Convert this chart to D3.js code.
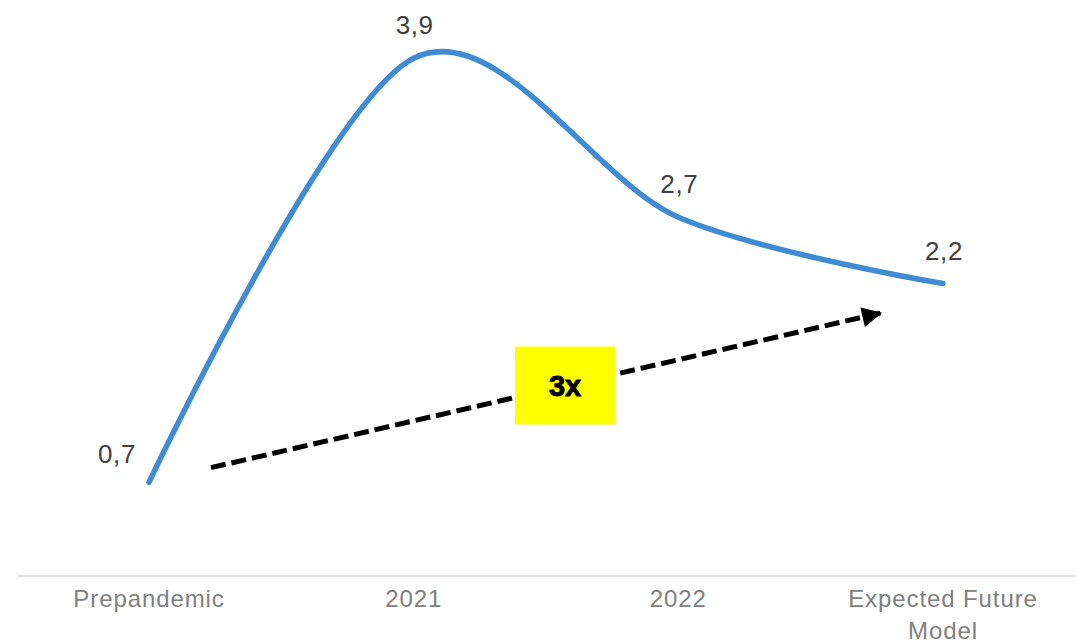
<!DOCTYPE html>
<html>
<head>
<meta charset="utf-8">
<script src="https://cdn.jsdelivr.net/npm/d3@7"></script>
<style>
  html, body { margin: 0; padding: 0; background: #fff; }
  svg { display: block; font-family: "Liberation Sans", Arial, Helvetica, sans-serif; }
</style>
</head>
<body>
<svg id="chart" width="1076" height="643"></svg>
<script>
// ---- data ----
const categories = ["Prepandemic", "2021", "2022", "Expected Future Model"];
const values = [0.7, 3.9, 2.7, 2.2];
const valueLabels = ["0,7", "3,9", "2,7", "2,2"];
// annotation: trend arrow (category index, value) and multiplier box
const arrowStart = [0.234, 0.81];
const arrowEnd = [2.77, 1.98];
const badgeAt = [1.572, 1.43];
const badgeText = "3x";

// ---- layout ----
const W = 1076, H = 643;
const svg = d3.select("#chart");

const x = d3.scalePoint().domain(categories).range([149, 943]);
const xi = d3.scaleLinear().domain([0, categories.length - 1]).range([149, 943]);
const y = d3.scaleLinear().domain([0, 4]).range([575, 45]);

// axis baseline
svg.append("line")
  .attr("x1", 17).attr("x2", W)
  .attr("y1", y(0) + 1).attr("y2", y(0) + 1)
  .attr("stroke", "#d9d9d9").attr("stroke-width", 1.5);

// category labels
const catG = svg.append("g");
categories.forEach((c, i) => {
  const words = c === "Expected Future Model" ? ["Expected Future", "Model"] : [c];
  const t = catG.append("text")
    .attr("x", x(c)).attr("y", 607)
    .attr("text-anchor", "middle")
    .attr("fill", "#808080")
    .attr("font-size", 24)
    .attr("letter-spacing", 0.9);
  words.forEach((w, j) => {
    t.append("tspan").attr("x", x(c)).attr("dy", j === 0 ? 0 : 32).text(w);
  });
});

// line
const pts = categories.map((c, i) => [x(c), y(values[i])]);
svg.append("path")
  .datum(pts)
  .attr("fill", "none")
  .attr("stroke", "#3f8bd4")
  .attr("stroke-width", 5.5)
  .attr("stroke-linecap", "round")
  .attr("stroke-linejoin", "round")
  .attr("d", d3.line().curve(d3.curveCardinal.tension(0.05)));

// data labels
categories.forEach((c, i) => {
  const first = i === 0;
  svg.append("text")
    .attr("x", first ? x(c) - 32 : x(c) + 1)
    .attr("y", first ? y(values[i]) - 19 : y(values[i]) - 24)
    .attr("text-anchor", "middle")
    .attr("fill", "#404040")
    .attr("font-size", 26)
    .attr("letter-spacing", 0.6)
    .text(valueLabels[i]);
});

// arrow
const defs = svg.append("defs");
defs.append("marker")
  .attr("id", "head")
  .attr("viewBox", "0 0 10 10")
  .attr("refX", 10).attr("refY", 5)
  .attr("markerWidth", 4.4).attr("markerHeight", 4)
  .attr("markerUnits", "strokeWidth")
  .attr("orient", "auto")
  .append("path").attr("d", "M0,0 L10,5 L0,10 Z").attr("fill", "#000");

const ax1 = xi(arrowStart[0]), ay1 = y(arrowStart[1]);
const ax2 = xi(arrowEnd[0]), ay2 = y(arrowEnd[1]);
svg.append("line")
  .attr("x1", ax1).attr("y1", ay1)
  .attr("x2", ax2).attr("y2", ay2)
  .attr("stroke", "#000")
  .attr("stroke-width", 5)
  .attr("stroke-dasharray", "15,6")
  .attr("marker-end", "url(#head)");

// badge
const bx = xi(badgeAt[0]), by = y(badgeAt[1]);
svg.append("rect")
  .attr("x", bx - 50).attr("y", by - 39)
  .attr("width", 100).attr("height", 78)
  .attr("fill", "#ffff00");
svg.append("text")
  .attr("x", bx).attr("y", by + 10)
  .attr("text-anchor", "middle")
  .attr("font-size", 29)
  .attr("font-weight", "bold")
  .attr("fill", "#000")
  .attr("stroke", "#000")
  .attr("stroke-width", 0.9)
  .text(badgeText);
</script>
</body>
</html>
